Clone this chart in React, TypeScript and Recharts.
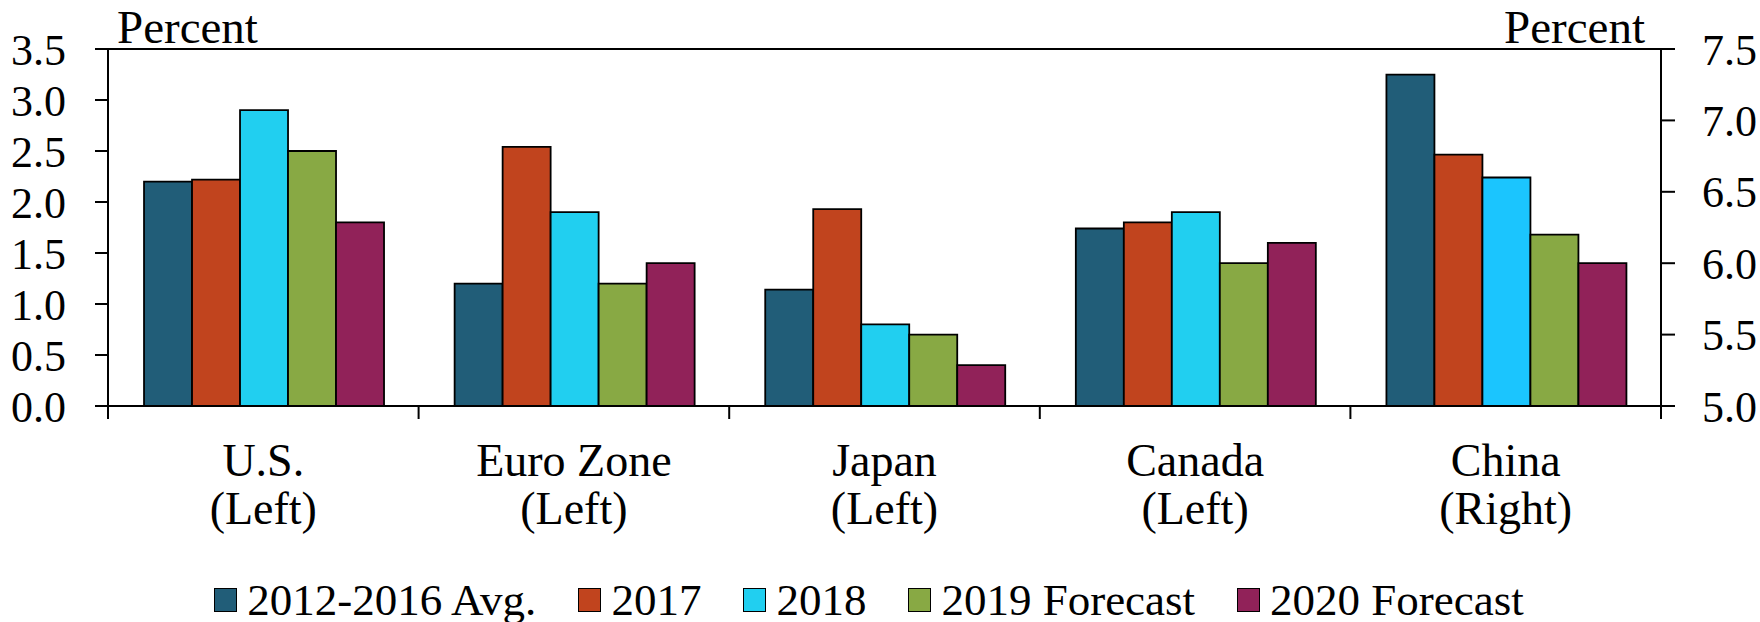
import React from 'react';
import { BarChart, Bar, XAxis, YAxis, Legend, ReferenceLine, Cell } from 'recharts';

const categories = ['U.S.', 'Euro Zone', 'Japan', 'Canada', 'China'];
const axisSides = ['(Left)', '(Left)', '(Left)', '(Left)', '(Right)'];
const onRightAxis = [false, false, false, false, true];

const seriesNames = ['2012-2016 Avg.', '2017', '2018', '2019 Forecast', '2020 Forecast'];
const seriesColors = ['#215D78', '#C1441E', '#21CFF0', '#88A944', '#912259'];

const avgVals = [2.2, 1.2, 1.14, 1.74, 7.32];
const y2017 = [2.22, 2.54, 1.93, 1.8, 6.76];
const y2018 = [2.9, 1.9, 0.8, 1.9, 6.6];
const y2019 = [2.5, 1.2, 0.7, 1.4, 6.2];
const y2020 = [1.8, 1.4, 0.4, 1.6, 6.0];

const leftTicks = [0, 0.5, 1, 1.5, 2, 2.5, 3, 3.5];
const rightTicks = [5, 5.5, 6, 6.5, 7, 7.5];
const leftDomain: [number, number] = [0, 3.5];
const rightDomain: [number, number] = [5, 7.5];

// China 2018 bar is drawn in a slightly bluer cyan in the source
const china2018Color = '#1BC5FE';

const seriesValues = [avgVals, y2017, y2018, y2019, y2020];
const seriesKeys = ['s0', 's1', 's2', 's3', 's4'];

// right-axis values are mapped onto the left scale so all bars share one band layout
const toLeft = (v: number) =>
  leftDomain[0] + ((v - rightDomain[0]) / (rightDomain[1] - rightDomain[0])) * (leftDomain[1] - leftDomain[0]);

const data = categories.map((c, i) => {
  const row: any = { name: c, side: axisSides[i] };
  seriesValues.forEach((vals, s) => {
    row[seriesKeys[s]] = onRightAxis[i] ? toLeft(vals[i]) : vals[i];
  });
  return row;
});

const FONT = '"Liberation Serif", "Times New Roman", serif';

const XTick = (props: any) => {
  const { x, y, payload, index } = props;
  const half = payload && payload.offset ? payload.offset : 155.3;
  const i = categories.indexOf(payload.value);
  const last = index === categories.length - 1;
  return (
    <g>
      <line x1={x - half} x2={x - half} y1={y} y2={y + 13} stroke="#000" strokeWidth={2} />
      {last && <line x1={x + half} x2={x + half} y1={y} y2={y + 13} stroke="#000" strokeWidth={2} />}
      <text textAnchor="middle" fontFamily={FONT} fontSize={46} fill="#000">
        <tspan x={x} y={y + 70}>{payload.value}</tspan>
        <tspan x={x} y={y + 118}>{axisSides[i]}</tspan>
      </text>
    </g>
  );
};

const LegendContent = () => (
  <div
    style={{
      display: 'flex',
      justifyContent: 'center',
      alignItems: 'center',
      fontFamily: FONT,
      fontSize: 45,
      lineHeight: '46px',
      color: '#000',
      paddingRight: 22,
    }}
  >
    {seriesNames.map((n, i) => (
      <div key={n} style={{ display: 'flex', alignItems: 'center', marginRight: i < seriesNames.length - 1 ? 42 : 0 }}>
        <span
          style={{
            display: 'inline-block',
            width: 21,
            height: 22,
            background: seriesColors[i],
            border: '1.5px solid #000',
            marginRight: 10,
          }}
        />
        <span>{n}</span>
      </div>
    ))}
  </div>
);

const PercentLeft = (props: any) => {
  const vb = props.viewBox || {};
  return (
    <text x={vb.x + vb.width + 9} y={vb.y - 6} fontFamily={FONT} fontSize={47} fill="#000">
      Percent
    </text>
  );
};

const PercentRight = (props: any) => {
  const vb = props.viewBox || {};
  return (
    <text x={vb.x - 16} y={vb.y - 6} textAnchor="end" fontFamily={FONT} fontSize={47} fill="#000">
      Percent
    </text>
  );
};

export default function App() {
  return (
    <div style={{ position: 'absolute', left: 0, top: 0, width: 1760, height: 622, background: '#fff' }}>
      <BarChart
        width={1760}
        height={622}
        data={data}
        margin={{ top: 49, right: 0, left: 0, bottom: 66 }}
        barCategoryGap="11.6%"
        barGap={0}
      >
        <XAxis
          dataKey="name"
          xAxisId={0}
          height={150}
          axisLine={{ stroke: '#000', strokeWidth: 2 }}
          tickLine={false}
          tickSize={0}
          tickMargin={0}
          tick={<XTick />}
          interval={0}
        />
        <YAxis
          yAxisId="left"
          orientation="left"
          width={108}
          domain={leftDomain}
          ticks={leftTicks}
          tickFormatter={(v: number) => v.toFixed(1)}
          tickSize={13}
          tickMargin={29}
          axisLine={{ stroke: '#000', strokeWidth: 2 }}
          tickLine={{ stroke: '#000', strokeWidth: 2 }}
          tick={{ fontFamily: FONT, fontSize: 44, fill: '#000' }}
          interval={0}
          label={<PercentLeft />}
        />
        <YAxis
          yAxisId="right"
          orientation="right"
          width={99}
          domain={rightDomain}
          ticks={rightTicks}
          type="number"
          allowDataOverflow
          tickFormatter={(v: number) => v.toFixed(1)}
          tickSize={14}
          tickMargin={27}
          axisLine={{ stroke: '#000', strokeWidth: 2 }}
          tickLine={{ stroke: '#000', strokeWidth: 2 }}
          tick={{ fontFamily: FONT, fontSize: 44, fill: '#000' }}
          interval={0}
          label={<PercentRight />}
        />
        <ReferenceLine yAxisId="left" y={leftDomain[1]} stroke="#000" strokeWidth={2} />
        {seriesKeys.map((k, s) => (
          <Bar
            key={k}
            dataKey={k}
            name={seriesNames[s]}
            yAxisId="left"
            fill={seriesColors[s]}
            stroke="#000"
            strokeWidth={1.8}
            isAnimationActive={false}
          >
            {data.map((_, i) => (
              <Cell
                key={i}
                fill={s === 2 && onRightAxis[i] ? china2018Color : seriesColors[s]}
              />
            ))}
          </Bar>
        ))}
        <Legend
          verticalAlign="middle"
          align="center"
          layout="horizontal"
          wrapperStyle={{ top: 577, left: 0, width: 1760 }}
          content={<LegendContent />}
        />
      </BarChart>
    </div>
  );
}
